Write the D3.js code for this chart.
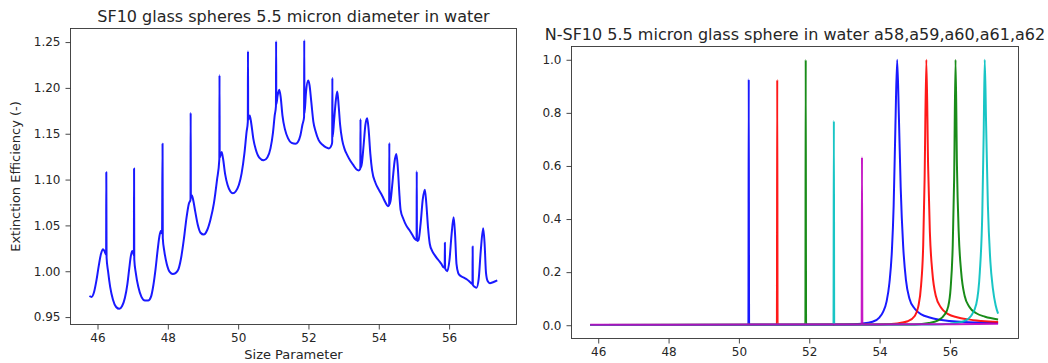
<!DOCTYPE html>
<html>
<head>
<meta charset="utf-8">
<script src="https://cdn.jsdelivr.net/npm/d3@7"></script>
<style>
  body { margin: 0; background: #fff; }
  text { font-family: "DejaVu Sans", sans-serif; fill: #262626; }
</style>
</head>
<body>
<div id="viz"></div>
<script>
"use strict";

var w = 1048;
var h = 363;

// left panel: extinction efficiency vs size parameter
var extinction = [
  [45.77,0.973],[45.83,0.972],[45.90,0.977],[45.97,0.990],[46.04,1.007],[46.10,1.019],[46.16,1.024],[46.21,1.021],[46.245,1.018],[46.25,1.108],[46.258,1.015],[46.30,1.000],[46.36,0.983],[46.44,0.969],[46.53,0.961],[46.62,0.959],
  [46.70,0.962],[46.78,0.971],[46.85,0.986],[46.90,1.002],[46.95,1.017],[46.99,1.022],[47.02,1.020],[47.035,1.017],[47.04,1.112],[47.046,1.013],[47.09,0.998],[47.16,0.983],[47.25,0.972],[47.35,0.968],[47.44,0.968],
  [47.52,0.972],[47.59,0.985],[47.65,1.002],[47.71,1.023],[47.76,1.038],[47.80,1.044],[47.835,1.041],[47.85,1.139],[47.857,1.036],[47.90,1.022],[47.97,1.008],[48.06,0.999],[48.14,0.997],[48.22,0.998],
  [48.30,1.002],[48.38,1.015],[48.46,1.036],[48.53,1.058],[48.60,1.074],[48.645,1.078],[48.65,1.173],[48.656,1.080],[48.68,1.083],[48.72,1.078],[48.78,1.065],[48.85,1.051],[48.93,1.042],[49.02,1.040],
  [49.12,1.045],[49.21,1.056],[49.31,1.074],[49.40,1.100],[49.465,1.122],[49.47,1.214],[49.476,1.124],[49.53,1.130],[49.57,1.123],[49.63,1.106],[49.70,1.094],[49.78,1.087],[49.85,1.085],
  [49.93,1.087],[50.02,1.094],[50.10,1.107],[50.18,1.129],[50.24,1.152],[50.275,1.163],[50.28,1.240],[50.286,1.165],[50.33,1.170],[50.37,1.162],[50.43,1.145],[50.50,1.133],[50.60,1.124],[50.73,1.121],
  [50.83,1.124],[50.92,1.134],[50.99,1.151],[51.04,1.170],[51.075,1.180],[51.08,1.251],[51.086,1.182],[51.12,1.191],[51.17,1.198],[51.21,1.190],[51.26,1.170],[51.33,1.155],[51.42,1.145],[51.52,1.140],[51.63,1.139],
  [51.70,1.141],[51.77,1.148],[51.83,1.160],[51.875,1.168],[51.88,1.252],[51.886,1.172],[51.93,1.195],[51.99,1.208],[52.03,1.203],[52.08,1.185],[52.14,1.163],[52.20,1.153],[52.29,1.143],[52.40,1.138],[52.50,1.135],[52.58,1.134],
  [52.66,1.138],[52.675,1.141],[52.68,1.211],[52.686,1.146],[52.73,1.165],[52.78,1.187],[52.82,1.196],[52.86,1.180],[52.90,1.160],[52.96,1.143],[53.03,1.133],[53.10,1.127],[53.20,1.120],[53.29,1.115],[53.37,1.111],[53.43,1.110],
  [53.475,1.112],[53.48,1.166],[53.486,1.113],[53.52,1.118],[53.57,1.138],[53.62,1.160],[53.67,1.167],[53.71,1.155],[53.76,1.128],[53.81,1.110],[53.91,1.096],[54.00,1.089],[54.10,1.082],[54.19,1.075],[54.26,1.071],
  [54.295,1.072],[54.30,1.140],[54.306,1.073],[54.34,1.078],[54.39,1.097],[54.45,1.120],[54.50,1.128],[54.54,1.114],[54.58,1.088],[54.62,1.067],[54.70,1.057],[54.78,1.050],[54.87,1.045],[54.95,1.040],[55.03,1.035],[55.07,1.034],
  [55.075,1.034],[55.08,1.109],[55.086,1.033],[55.13,1.034],[55.19,1.052],[55.25,1.078],[55.31,1.089],[55.35,1.075],[55.40,1.048],[55.45,1.030],[55.52,1.022],[55.60,1.017],[55.70,1.012],[55.78,1.008],[55.85,1.004],
  [55.875,1.004],[55.88,1.031],[55.886,1.003],[55.95,1.000],[56.01,1.012],[56.07,1.040],[56.13,1.059],[56.17,1.040],[56.21,1.008],[56.26,0.998],[56.32,0.995],[56.42,0.993],[56.51,0.991],[56.60,0.988],[56.665,0.986],
  [56.67,1.027],[56.676,0.985],[56.73,0.983],[56.78,0.982],[56.84,0.991],[56.90,1.022],[56.97,1.047],[57.01,1.030],[57.05,0.998],[57.10,0.989],[57.16,0.987],[57.25,0.988],[57.37,0.990]
];

// right panel: normalised coefficients a58..a62
var a58 = [[45.77,0.001],[50.0,0.001],[50.27,0.002],[50.28,0.927],[50.29,0.002],[53.0,0.003],[53.5,0.006],[53.8,0.013],[54.0,0.03],[54.1,0.05],[54.2,0.09],[54.28,0.16],[54.35,0.28],[54.4,0.45],[54.45,0.75],[54.5,1.0],[54.55,0.78],[54.6,0.52],[54.67,0.3],[54.75,0.17],[54.85,0.1],[55.0,0.062],[55.2,0.04],[55.4,0.03],[55.7,0.021],[56.0,0.016],[56.4,0.012],[56.8,0.01],[57.37,0.008]];
var a59 = [[45.77,0.001],[51.08,0.002],[51.09,0.925],[51.10,0.002],[54.0,0.003],[54.5,0.007],[54.8,0.015],[55.0,0.035],[55.1,0.07],[55.18,0.15],[55.24,0.3],[55.28,0.55],[55.33,1.0],[55.38,0.6],[55.43,0.35],[55.5,0.2],[55.6,0.11],[55.75,0.066],[55.95,0.042],[56.2,0.03],[56.5,0.022],[56.9,0.016],[57.37,0.012]];
var a60 = [[45.77,0.001],[51.89,0.002],[51.90,1.0],[51.91,0.002],[55.0,0.003],[55.4,0.008],[55.65,0.017],[55.85,0.04],[55.95,0.07],[56.02,0.14],[56.08,0.3],[56.12,0.55],[56.16,1.0],[56.2,0.6],[56.25,0.35],[56.32,0.2],[56.42,0.11],[56.55,0.07],[56.75,0.045],[57.0,0.032],[57.37,0.022]];
var a61 = [[45.77,0.001],[52.69,0.002],[52.70,0.77],[52.71,0.002],[55.5,0.003],[56.0,0.006],[56.4,0.015],[56.6,0.035],[56.75,0.08],[56.85,0.2],[56.92,0.42],[56.96,0.72],[56.99,1.0],[57.03,0.75],[57.08,0.45],[57.15,0.24],[57.22,0.14],[57.3,0.075],[57.37,0.044]];
var a62 = [[45.77,0.002],[53.49,0.003],[53.50,0.633],[53.51,0.003],[56.0,0.004],[57.37,0.006]];

var seriesRight = [a58, a59, a60, a61, a62];
var seriesColors = ["#0000ff", "#ff0000", "#008000", "#00bfbf", "#bf00bf"];

var xTicks = [46, 48, 50, 52, 54, 56];
var yTicksLeft = [0.95, 1.00, 1.05, 1.10, 1.15, 1.20, 1.25];
var yTicksRight = [0.0, 0.2, 0.4, 0.6, 0.8, 1.0];

var svg = d3.select("#viz")
  .append("svg")
  .attr("width", w)
  .attr("height", h);

function drawPanel(opt) {
  var x = d3.scaleLinear().domain(opt.xDomain).range([opt.left, opt.right]);
  var y = d3.scaleLinear().domain(opt.yDomain).range([opt.bottom, opt.top]);
  var g = svg.append("g");

  var line = d3.line()
    .x(function(d) { return x(d[0]); })
    .y(function(d) { return y(d[1]); })
    .curve(d3.curveMonotoneX);

  g.append("clipPath").attr("id", opt.id)
    .append("rect")
    .attr("x", opt.left).attr("y", opt.top)
    .attr("width", opt.right - opt.left).attr("height", opt.bottom - opt.top);

  g.append("g").attr("clip-path", "url(#" + opt.id + ")")
    .selectAll("path")
    .data(opt.series).enter()
    .append("path")
    .attr("d", line)
    .attr("fill", "none")
    .attr("stroke", function(d, i) { return opt.colors[i]; })
    .attr("stroke-opacity", 0.9)
    .attr("stroke-width", 2)
    .attr("stroke-linejoin", "round");

  var xAxis = g.append("g")
    .attr("transform", "translate(0," + opt.bottom + ")")
    .call(d3.axisBottom(x).tickValues(xTicks).tickSize(5).tickPadding(4).tickFormat(d3.format("d")));
  var yAxis = g.append("g")
    .attr("transform", "translate(" + opt.left + ",0)")
    .call(d3.axisLeft(y).tickValues(opt.yTicks).tickSize(5).tickPadding(5).tickFormat(d3.format(opt.yFormat)));

  [xAxis, yAxis].forEach(function(a) {
    a.select(".domain").remove();
    a.selectAll("line").attr("stroke", "#333").attr("stroke-width", 0.9);
    a.selectAll("text").attr("font-size", 12).attr("fill", "#262626")
      .attr("font-family", "DejaVu Sans, sans-serif");
  });

  g.append("rect")
    .attr("x", opt.left).attr("y", opt.top)
    .attr("width", opt.right - opt.left).attr("height", opt.bottom - opt.top)
    .attr("fill", "none").attr("stroke", "#333").attr("stroke-width", 0.9);

  g.append("text")
    .attr("x", (opt.left + opt.right) / 2)
    .attr("y", opt.titleY)
    .attr("text-anchor", "middle")
    .attr("font-size", 16)
    .text(opt.title);

  return { x: x, y: y, g: g };
}

var leftPanel = drawPanel({
  id: "clipL",
  left: 70.5, right: 516.5, top: 28.5, bottom: 324.5,
  xDomain: [45.232, 57.917], yDomain: [0.9419, 1.2648],
  series: [extinction], colors: ["#0000ff"],
  yTicks: yTicksLeft, yFormat: ".2f",
  title: "SF10 glass spheres 5.5 micron diameter in water", titleY: 22
});

leftPanel.g.append("text")
  .attr("x", (70.5 + 516.5) / 2)
  .attr("y", 359)
  .attr("text-anchor", "middle")
  .attr("font-size", 13)
  .text("Size Parameter");

leftPanel.g.append("text")
  .attr("transform", "translate(20," + (28.5 + 324.5) / 2 + ") rotate(-90)")
  .attr("text-anchor", "middle")
  .attr("font-size", 13)
  .text("Extinction Efficiency (-)");

drawPanel({
  id: "clipR",
  left: 571.5, right: 1018.5, top: 46.5, bottom: 338.5,
  xDomain: [45.24, 57.95], yDomain: [-0.05, 1.05],
  series: seriesRight, colors: seriesColors,
  yTicks: yTicksRight, yFormat: ".1f",
  title: "N-SF10 5.5 micron glass sphere in water a58,a59,a60,a61,a62", titleY: 39.5
});
</script>
</body>
</html>
